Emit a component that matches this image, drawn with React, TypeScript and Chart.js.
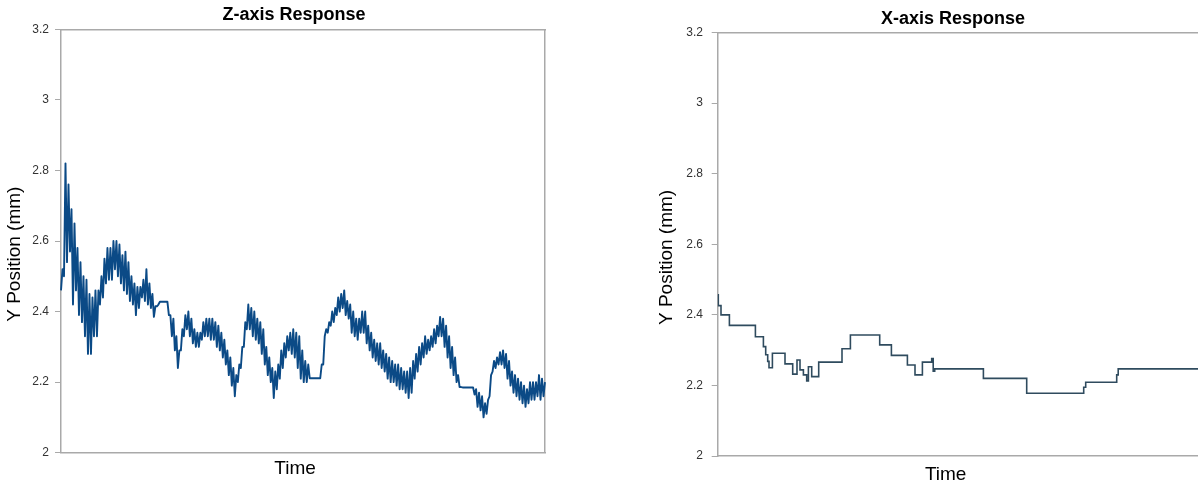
import React, { useEffect, useRef } from "react";
import { Chart, registerables } from "chart.js";

Chart.register(...registerables);

const FONT = "'Liberation Sans', Arial, Helvetica, sans-serif";
const AXIS_COLOR = "#a9a9a9";
const TICK_COLOR = "#333333";

// Shared y axis ticks
const yTickValues = [2, 2.2, 2.4, 2.6, 2.8, 3, 3.2];
const yTickLabels = ["2", "2.2", "2.4", "2.6", "2.8", "3", "3.2"];

// Z-axis response: noisy signal, read as [low, high] envelope per sample
const zBand: [number, number][] = [
  [2.46, 2.52], [2.50, 2.82], [2.54, 2.76], [2.57, 2.69], [2.42, 2.65],
  [2.46, 2.58], [2.39, 2.54], [2.37, 2.50], [2.33, 2.49], [2.28, 2.45],
  [2.28, 2.44], [2.33, 2.46], [2.33, 2.46], [2.42, 2.50], [2.44, 2.55],
  [2.48, 2.58], [2.49, 2.58], [2.49, 2.60], [2.52, 2.60], [2.50, 2.59],
  [2.48, 2.56], [2.46, 2.57], [2.45, 2.54], [2.43, 2.50], [2.42, 2.48],
  [2.39, 2.47], [2.41, 2.47], [2.44, 2.49], [2.43, 2.52], [2.42, 2.48],
  [2.41, 2.45], [2.385, 2.415], [2.415, 2.42], [2.428, 2.428], [2.428, 2.428],
  [2.428, 2.428], [2.39, 2.39], [2.33, 2.38], [2.29, 2.33], [2.24, 2.29],
  [2.29, 2.35], [2.33, 2.39], [2.35, 2.40], [2.33, 2.38], [2.31, 2.35],
  [2.30, 2.34], [2.30, 2.34], [2.32, 2.37], [2.33, 2.38], [2.33, 2.38],
  [2.32, 2.38], [2.32, 2.37], [2.30, 2.36], [2.29, 2.34], [2.27, 2.32],
  [2.25, 2.29], [2.22, 2.27], [2.19, 2.24], [2.16, 2.22], [2.20, 2.25],
  [2.24, 2.30], [2.30, 2.37], [2.35, 2.42], [2.35, 2.41], [2.33, 2.40],
  [2.32, 2.38], [2.31, 2.37], [2.28, 2.35], [2.25, 2.30], [2.22, 2.27],
  [2.20, 2.24], [2.155, 2.23], [2.18, 2.25], [2.21, 2.29], [2.24, 2.31],
  [2.27, 2.33], [2.29, 2.34], [2.28, 2.35], [2.27, 2.34], [2.24, 2.33],
  [2.21, 2.29], [2.20, 2.26], [2.20, 2.25], [2.211, 2.211], [2.211, 2.211],
  [2.211, 2.211], [2.211, 2.211], [2.25, 2.25], [2.33, 2.35], [2.34, 2.37],
  [2.36, 2.40], [2.37, 2.41], [2.39, 2.44], [2.40, 2.45], [2.41, 2.46],
  [2.39, 2.43], [2.38, 2.42], [2.34, 2.40], [2.33, 2.38], [2.32, 2.38],
  [2.34, 2.40], [2.34, 2.40], [2.31, 2.36], [2.29, 2.34], [2.27, 2.32],
  [2.26, 2.31], [2.25, 2.31], [2.24, 2.29], [2.23, 2.28], [2.21, 2.27],
  [2.20, 2.26], [2.20, 2.25], [2.19, 2.25], [2.18, 2.24], [2.18, 2.23],
  [2.17, 2.23], [2.155, 2.24], [2.17, 2.26], [2.21, 2.28], [2.23, 2.30],
  [2.25, 2.31], [2.27, 2.33], [2.28, 2.32], [2.29, 2.33], [2.30, 2.35],
  [2.31, 2.36], [2.33, 2.385], [2.33, 2.38], [2.30, 2.36], [2.27, 2.33],
  [2.24, 2.30], [2.22, 2.27], [2.20, 2.22], [2.186, 2.186], [2.185, 2.185],
  [2.185, 2.185], [2.185, 2.185], [2.185, 2.185], [2.165, 2.18], [2.13, 2.17],
  [2.12, 2.16], [2.10, 2.14], [2.11, 2.15], [2.16, 2.22], [2.23, 2.26],
  [2.24, 2.27], [2.25, 2.285], [2.25, 2.29], [2.24, 2.28], [2.21, 2.26],
  [2.19, 2.23], [2.17, 2.22], [2.16, 2.21], [2.15, 2.20], [2.14, 2.19],
  [2.13, 2.18], [2.14, 2.20], [2.15, 2.20], [2.15, 2.20], [2.16, 2.22],
  [2.15, 2.21], [2.16, 2.20],
];

// X-axis response: stepped signal (time of each step, value from that time on)
const xStepTimes = [
  0, 0.6, 3.3, 11.7, 37.7, 45.7, 48, 50, 51.3, 54.7,
  67.3, 75, 79.3, 82.3, 85.7, 89, 90.7, 94, 101, 124.3,
  132.7, 162, 173.7, 189.7, 197.3, 204.7, 214, 215.5, 217, 265.7,
  309, 366, 368, 399, 400.5, 483,
];
const xStepValues = [
  2.457, 2.426, 2.4, 2.37, 2.338, 2.31, 2.287, 2.268, 2.25, 2.291,
  2.261, 2.232, 2.272, 2.244, 2.23, 2.213, 2.253, 2.225, 2.266, 2.304,
  2.343, 2.315, 2.285, 2.258, 2.23, 2.266, 2.276, 2.24, 2.247, 2.22,
  2.178, 2.195, 2.209, 2.23, 2.247, 2.247,
];
const xTimeMax = 482.3;

type Geo = {
  yAxisWidth: number;
  rightPad: number;
  xAxisHeight: number;
  titlePadTop: number;
  titlePadBottom: number;
  yTitlePad: number;
  xTitlePad: number;
  tickPad: number;
  titleText: string;
  xTitleText: string;
  yTitleText: string;
};

function baseOptions(g: Geo, xScale: any): any {
  return {
    animation: false,
    responsive: false,
    maintainAspectRatio: false,
    devicePixelRatio: 1,
    layout: { padding: 0 },
    plugins: {
      legend: { display: false },
      tooltip: { enabled: false },
      title: {
        display: true,
        text: g.titleText,
        color: "#000000",
        font: { family: FONT, size: 18, weight: "bold", lineHeight: 1.2 },
        padding: { top: g.titlePadTop, bottom: g.titlePadBottom },
      },
    },
    scales: {
      x: {
        ...xScale,
        position: "bottom",
        grid: { display: false },
        border: { display: true, color: AXIS_COLOR, width: 1.5 },
        ticks: { display: false },
        title: {
          display: true,
          text: g.xTitleText,
          color: "#000000",
          font: { family: FONT, size: 19, lineHeight: 1.2 },
          padding: { top: 0, bottom: g.xTitlePad },
        },
        afterFit: (s: any) => {
          s.height = g.xAxisHeight;
        },
      },
      y: {
        type: "linear",
        position: "left",
        min: 2,
        max: 3.2,
        afterBuildTicks: (s: any) => {
          s.ticks = yTickValues.map((v) => ({ value: v }));
        },
        grid: {
          display: true,
          drawOnChartArea: false,
          drawTicks: true,
          tickLength: 6,
          color: AXIS_COLOR,
          lineWidth: 1,
        },
        border: { display: true, color: AXIS_COLOR, width: 1.5 },
        ticks: {
          color: TICK_COLOR,
          font: { family: FONT, size: 12 },
          padding: g.tickPad,
          callback: (_v: any, i: number) => yTickLabels[i],
        },
        title: {
          display: true,
          text: g.yTitleText,
          color: "#000000",
          font: { family: FONT, size: 19, lineHeight: 1.2 },
          padding: { top: g.yTitlePad, bottom: 0 },
        },
        afterFit: (s: any) => {
          s.width = g.yAxisWidth;
        },
      },
      x2: {
        type: "linear",
        position: "top",
        grid: { display: false },
        border: { display: true, color: AXIS_COLOR, width: 1.5 },
        ticks: { display: false },
        afterFit: (s: any) => {
          s.height = 0;
        },
      },
      y2: {
        type: "linear",
        position: "right",
        grid: { display: false },
        border: { display: true, color: AXIS_COLOR, width: 1.5 },
        ticks: { display: false },
        afterFit: (s: any) => {
          s.width = g.rightPad;
        },
      },
    },
  };
}

function ZChart() {
  const ref = useRef<HTMLCanvasElement | null>(null);
  useEffect(() => {
    if (!ref.current) return;
    const series = zBand.flat();
    const labels = series.map((_, i) => String(i));
    const chart = new Chart(ref.current, {
      type: "line",
      data: {
        labels,
        datasets: [
          {
            data: series,
            borderColor: "#0b4a86",
            borderWidth: 1.9,
            borderJoinStyle: "round",
            pointRadius: 0,
            tension: 0,
            fill: false,
          },
        ],
      },
      options: baseOptions(
        {
          yAxisWidth: 61,
          rightPad: 43,
          xAxisHeight: 32.3,
          titlePadTop: 3.9,
          titlePadBottom: 3.8,
          yTitlePad: 3.7,
          xTitlePad: 4.7,
          tickPad: 6,
          titleText: "Z-axis Response",
          xTitleText: "Time   ",
          yTitleText: "Y Position (mm)     ",
        },
        { type: "category", offset: false }
      ),
    } as any);
    return () => chart.destroy();
  }, []);
  return (
    <canvas
      ref={ref}
      width={588}
      height={485}
      style={{ position: "absolute", left: 0, top: 0, width: 588, height: 485, display: "block" }}
    />
  );
}

function XChart() {
  const ref = useRef<HTMLCanvasElement | null>(null);
  useEffect(() => {
    if (!ref.current) return;
    const points = xStepTimes.map((t, i) => ({ x: t, y: xStepValues[i] }));
    const chart = new Chart(ref.current, {
      type: "line",
      data: {
        datasets: [
          {
            data: points,
            borderColor: "#2f4b5e",
            borderWidth: 1.6,
            pointRadius: 0,
            stepped: true,
            fill: false,
          },
        ],
      },
      options: baseOptions(
        {
          yAxisWidth: 67.7,
          rightPad: 56,
          xAxisHeight: 34,
          titlePadTop: 7.9,
          titlePadBottom: 3.0,
          yTitlePad: 5.3,
          xTitlePad: 3.5,
          tickPad: 8.7,
          titleText: "X-axis Response",
          xTitleText: "Time     ",
          yTitleText: "Y Position (mm)     ",
        },
        { type: "linear", min: 0, max: xTimeMax }
      ),
    } as any);
    return () => chart.destroy();
  }, []);
  return (
    <canvas
      ref={ref}
      width={606}
      height={490}
      style={{ position: "absolute", left: 650, top: 0, width: 606, height: 490, display: "block" }}
    />
  );
}

export default function App() {
  return (
    <div
      style={{
        position: "fixed",
        left: 0,
        top: 0,
        width: 1198,
        height: 485,
        overflow: "hidden",
        background: "#ffffff",
      }}
    >
      <ZChart />
      <XChart />
    </div>
  );
}
